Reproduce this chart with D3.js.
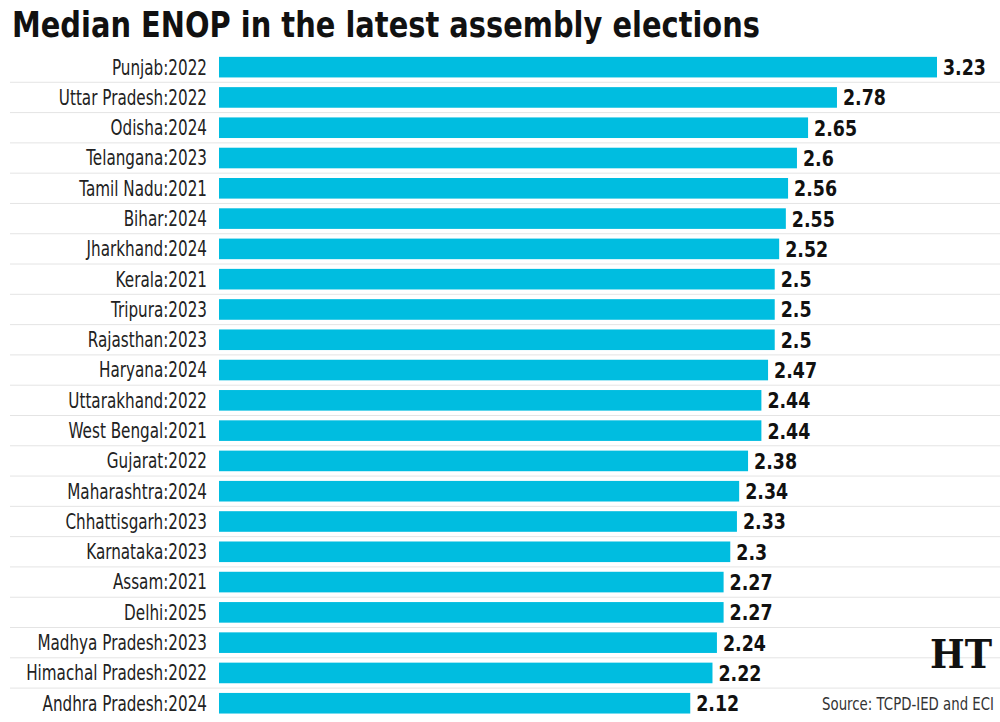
<!DOCTYPE html>
<html>
<head>
<meta charset="utf-8">
<script src="https://cdn.jsdelivr.net/npm/d3@7"></script>
<style>
  body { margin: 0; background: #fff; }
  svg { display: block; }
</style>
</head>
<body>
<svg id="chart" width="1000" height="722"></svg>
<script>
// chart data
const states = [
  "Punjab:2022", "Uttar Pradesh:2022", "Odisha:2024", "Telangana:2023",
  "Tamil Nadu:2021", "Bihar:2024", "Jharkhand:2024", "Kerala:2021",
  "Tripura:2023", "Rajasthan:2023", "Haryana:2024", "Uttarakhand:2022",
  "West Bengal:2021", "Gujarat:2022", "Maharashtra:2024", "Chhattisgarh:2023",
  "Karnataka:2023", "Assam:2021", "Delhi:2025", "Madhya Pradesh:2023",
  "Himachal Pradesh:2022", "Andhra Pradesh:2024"
];
const enop = [
  3.23, 2.78, 2.65, 2.6, 2.56, 2.55, 2.52, 2.5, 2.5, 2.5, 2.47,
  2.44, 2.44, 2.38, 2.34, 2.33, 2.3, 2.27, 2.27, 2.24, 2.22, 2.12
];
const valueLabels = [
  "3.23", "2.78", "2.65", "2.6", "2.56", "2.55", "2.52", "2.5", "2.5", "2.5", "2.47",
  "2.44", "2.44", "2.38", "2.34", "2.33", "2.3", "2.27", "2.27", "2.24", "2.22", "2.12"
];

const data = states.map((s, i) => ({ state: s, value: enop[i], label: valueLabels[i] }));

let svg = d3.select("#chart");

let dims = {
  top: 52,    // top of the first band
  left: 219,  // where bars start
  band: 30.29
};

const sans = "'DejaVu Sans', 'Liberation Sans', sans-serif";

// no condensed font here, so squeeze text horizontally to the reference widths
function measure(str, size, weight) {
  let t = svg.append("text").text(str)
    .attr("font-family", sans).attr("font-size", size).attr("font-weight", weight);
  let w = t.node().getComputedTextLength();
  t.remove();
  return w;
}
const kLabel = 181 / measure("Himachal Pradesh:2022", 20.5, "normal");
const kValue = 43 / measure("3.23", 22, "bold");
const kSource = 172 / measure("Source: TCPD-IED and ECI", 18, "normal");

let xScale = d3.scaleLinear().domain([0, 3.23]).range([dims.left, 937]);
let yScale = d3.scaleBand()
  .domain(states)
  .range([dims.top, dims.top + dims.band * states.length])
  .paddingInner(0.32)
  .paddingOuter(0.16);

// title
svg.append("text")
  .text("Median ENOP in the latest assembly elections")
  .attr("x", 12)
  .attr("y", 37)
  .attr("font-family", sans)
  .attr("font-weight", "bold")
  .attr("font-size", 35)
  .attr("textLength", 748)
  .attr("lengthAdjust", "spacingAndGlyphs")
  .attr("fill", "#111");

// separators between rows
let step = yScale.step();
let sepY = (d) => yScale(d) + yScale.bandwidth() + (step - yScale.bandwidth()) / 2;
svg.append("g")
  .selectAll("line")
  .data(states.slice(0, -1))
  .enter()
  .append("line")
  .attr("x1", 10)
  .attr("x2", 1000)
  .attr("y1", sepY)
  .attr("y2", sepY)
  .attr("stroke", "#e4e4e4")
  .attr("stroke-width", 1);

// bars
svg.append("g")
  .selectAll("rect")
  .data(data)
  .enter()
  .append("rect")
  .attr("x", xScale(0))
  .attr("y", (d) => yScale(d.state))
  .attr("width", (d) => xScale(d.value) - xScale(0))
  .attr("height", yScale.bandwidth())
  .attr("fill", "#00bde0");

// category labels
svg.append("g")
  .selectAll("text")
  .data(data)
  .enter()
  .append("text")
  .text((d) => d.state)
  .attr("transform", (d) =>
    "translate(207," + (yScale(d.state) + yScale.bandwidth() / 2) + ") scale(" + kLabel + ",1)")
  .attr("text-anchor", "end")
  .attr("dy", "0.36em")
  .attr("font-family", sans)
  .attr("font-size", 20.5)
  .attr("fill", "#222");

// value labels
svg.append("g")
  .selectAll("text")
  .data(data)
  .enter()
  .append("text")
  .text((d) => d.label)
  .attr("transform", (d) =>
    "translate(" + (xScale(d.value) + 6) + "," + (yScale(d.state) + yScale.bandwidth() / 2) + ") scale(" + kValue + ",1)")
  .attr("dy", "0.36em")
  .attr("font-family", sans)
  .attr("font-weight", "bold")
  .attr("font-size", 22)
  .attr("fill", "#111");

// logo and source
svg.append("text")
  .text("HT")
  .attr("x", 961)
  .attr("y", 668)
  .attr("text-anchor", "middle")
  .attr("font-family", "'DejaVu Serif', 'Liberation Serif', serif")
  .attr("font-weight", "bold")
  .attr("font-size", 40)
  .attr("textLength", 62)
  .attr("lengthAdjust", "spacingAndGlyphs")
  .attr("fill", "#111");

svg.append("text")
  .text("Source: TCPD-IED and ECI")
  .attr("transform", "translate(994,710) scale(" + kSource + ",1)")
  .attr("text-anchor", "end")
  .attr("font-family", sans)
  .attr("font-size", 18)
  .attr("fill", "#333");
</script>
</body>
</html>
